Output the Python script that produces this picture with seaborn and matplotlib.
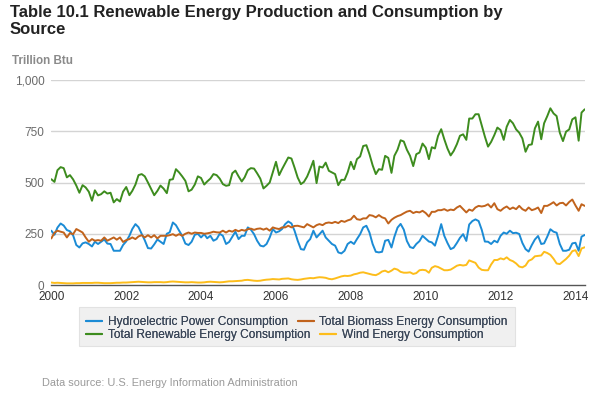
import numpy as np
import pandas as pd
import matplotlib
matplotlib.use("Agg")
import matplotlib.pyplot as plt
import matplotlib.dates as mdates
from matplotlib.lines import Line2D
from matplotlib.patches import Rectangle
import seaborn as sns

# ---------------- data (trillion Btu, monthly Jan 2000 - Apr 2014) ----------------
start_month = "2000-01-01"

total_renewable = [
    516, 503, 560, 575, 570, 525, 536, 515, 485, 450, 487, 476,
    455, 411, 462, 437, 443, 457, 446, 450, 403, 419, 407, 455,
    478, 438, 459, 490, 536, 541, 530, 500, 468, 438, 459, 485,
    470, 448, 513, 516, 565, 549, 530, 508, 457, 465, 490, 530,
    522, 490, 505, 519, 541, 536, 519, 492, 484, 487, 545, 558,
    530, 505, 525, 560, 570, 568, 545, 519, 471, 484, 500, 549,
    601, 536, 565, 594, 622, 617, 573, 524, 492, 503, 529, 565,
    606, 497, 578, 573, 597, 557, 549, 541, 487, 513, 513, 549,
    601, 565, 614, 627, 678, 682, 638, 584, 541, 565, 562, 630,
    620, 547, 630, 660, 706, 700, 660, 630, 580, 638, 646, 690,
    670, 614, 672, 666, 727, 760, 711, 666, 632, 654, 687, 728,
    735, 708, 812, 812, 833, 833, 779, 724, 675, 698, 731, 768,
    756, 708, 772, 805, 789, 759, 743, 715, 650, 683, 686, 764,
    797, 711, 789, 824, 862, 837, 824, 743, 702, 748, 759, 808,
    818, 704, 841, 857,
]

hydro = [
    265, 245, 280, 300, 290, 268, 262, 242, 195, 183, 203, 208,
    200, 188, 211, 200, 211, 222, 202, 200, 167, 167, 167, 195,
    213, 240, 273, 297, 282, 250, 218, 180, 178, 198, 222, 211,
    200, 250, 257, 305, 292, 265, 240, 202, 195, 211, 245, 250,
    232, 248, 228, 240, 216, 224, 250, 240, 200, 210, 235, 260,
    224, 240, 240, 281, 270, 248, 216, 192, 188, 200, 232, 273,
    256, 262, 273, 297, 310, 300, 265, 216, 175, 172, 208, 224,
    265, 232, 248, 265, 232, 216, 200, 192, 159, 154, 167, 200,
    211, 200, 224, 248, 281, 289, 256, 200, 162, 159, 162, 216,
    220, 183, 235, 280, 298, 270, 215, 185, 180, 200, 214, 240,
    226, 212, 208, 192, 240, 297, 240, 205, 175, 182, 205, 230,
    248, 215, 295, 312, 320, 312, 270, 212, 211, 200, 216, 208,
    240, 256, 250, 265, 253, 255, 249, 205, 175, 163, 195, 222,
    239, 200, 203, 236, 272, 260, 255, 200, 167, 167, 172, 203,
    206, 167, 236, 244,
]

biomass = [
    227, 255, 265, 260, 256, 232, 253, 248, 273, 265, 256, 232,
    211, 224, 216, 219, 216, 232, 216, 224, 232, 221, 232, 210,
    219, 224, 232, 224, 237, 243, 232, 243, 232, 243, 227, 240,
    240, 240, 243, 248, 240, 248, 240, 250, 256, 250, 256, 254,
    254, 250, 252, 255, 260, 257, 256, 265, 256, 265, 260, 269,
    262, 269, 265, 272, 275, 269, 274, 276, 270, 276, 265, 281,
    276, 273, 281, 281, 289, 281, 288, 289, 285, 281, 297, 289,
    281, 292, 297, 292, 302, 305, 302, 308, 302, 313, 308, 315,
    320, 338, 321, 318, 325, 325, 341, 338, 330, 341, 330, 325,
    300, 318, 328, 336, 341, 350, 358, 362, 351, 357, 354, 362,
    351, 334, 357, 357, 365, 365, 370, 362, 368, 365, 378, 386,
    370, 354, 368, 362, 378, 386, 383, 386, 394, 378, 399, 370,
    362, 375, 383, 370, 378, 370, 386, 370, 362, 378, 365, 370,
    378, 351, 386, 386, 394, 404, 388, 399, 401, 388, 405, 417,
    388, 362, 394, 386,
]

wind = [
    12, 10, 11, 10, 9, 8, 8, 8, 9, 9, 10, 10,
    10, 10, 11, 11, 10, 9, 9, 9, 10, 11, 11, 12,
    12, 13, 14, 15, 16, 15, 14, 13, 13, 14, 14, 14,
    13, 14, 16, 17, 16, 15, 14, 13, 13, 14, 13, 12,
    12, 13, 15, 16, 15, 14, 13, 14, 16, 18, 18, 19,
    20, 21, 24, 25, 23, 21, 20, 21, 24, 26, 27, 29,
    28, 27, 30, 31, 32, 28, 26, 25, 27, 30, 32, 34,
    33, 36, 38, 37, 35, 30, 28, 32, 37, 42, 45, 44,
    46, 52, 55, 60, 62, 58, 54, 50, 48, 55, 66, 70,
    62, 70, 80, 75, 64, 60, 60, 62, 54, 58, 72, 74,
    72, 60, 84, 92, 88, 80, 72, 72, 75, 84, 94, 98,
    95, 98, 120, 114, 108, 85, 74, 72, 72, 100, 122, 122,
    130, 125, 135, 122, 116, 105, 90, 86, 95, 118, 125, 140,
    142, 144, 162, 156, 147, 128, 105, 102, 115, 127, 143, 165,
    170, 141, 178, 184,
]

series_names = [
    "Hydroelectric Power Consumption",
    "Total Biomass Energy Consumption",
    "Total Renewable Energy Consumption",
    "Wind Energy Consumption",
]
series_colors = ["#1b8bd5", "#c1631c", "#3d8c1e", "#fdbd1b"]
y_ticks = [0, 250, 500, 750, 1000]
y_tick_labels = ["0", "250", "500", "750", "1,000"]

title_line1 = "Table 10.1 Renewable Energy Production and Consumption by"
title_line2 = "Source"
unit_label = "Trillion Btu"
source_note = "Data source: U.S. Energy Information Administration"

# ---------------- build table ----------------
dates = pd.date_range(start_month, periods=len(hydro), freq="MS")
values = [hydro, biomass, total_renewable, wind]
frames = [pd.DataFrame({"date": dates, "value": v, "series": n})
          for n, v in zip(series_names, values)]
df = pd.concat(frames, ignore_index=True)

# ---------------- style ----------------
sns.set_theme(style="white")
plt.rcParams["font.family"] = ["Liberation Sans", "DejaVu Sans"]

W, H = 595, 397
fig = plt.figure(figsize=(W / 100, H / 100), dpi=100)
ax = fig.add_axes([51.3 / W, 1 - 285 / H, (584.7 - 51.3) / W, (285 - 80) / H])

palette = dict(zip(series_names, series_colors))
sns.lineplot(data=df, x="date", y="value", hue="series", hue_order=series_names,
             palette=palette, ax=ax, legend=False, linewidth=1.4)

ax.set_xlim(dates[0], dates[-1])
ax.set_ylim(0, 1000)
ax.set_yticks(y_ticks)
ax.set_yticklabels(y_tick_labels)
ax.xaxis.set_major_locator(mdates.YearLocator(2))
ax.xaxis.set_major_formatter(mdates.DateFormatter("%Y"))
ax.set_xlabel("")
ax.set_ylabel("")

for yv in y_ticks[1:]:
    ax.axhline(yv, color="#d4d4d4", linewidth=1.0, zorder=0)

for s in ["top", "right", "left"]:
    ax.spines[s].set_visible(False)
ax.spines["bottom"].set_color("#555555")
ax.spines["bottom"].set_linewidth(1.0)
ax.tick_params(axis="x", which="major", direction="out", length=3, width=1,
               color="#555555", labelsize=8.5, labelcolor="#333333", pad=1.5)
ax.tick_params(axis="y", length=0, labelsize=8.5, labelcolor="#6a6a6a", pad=5)
ax.set_facecolor("white")

# ---------------- texts ----------------
fig.text(10 / W, 1 - 17 / H, title_line1, fontsize=12.0, fontweight="bold",
         color="#222222", va="baseline", ha="left")
fig.text(10 / W, 1 - 34 / H, title_line2, fontsize=12.0, fontweight="bold",
         color="#222222", va="baseline", ha="left")
fig.text(12 / W, 1 - 61 / H, unit_label, fontsize=8.4, fontweight="bold",
         color="#8a8a8a", va="center", ha="left")
fig.text(42 / W, 1 - 383 / H, source_note, fontsize=7.9,
         color="#9a9a9a", va="center", ha="left")

# ---------------- legend ----------------
fig.add_artist(Rectangle((79 / W, 1 - 346 / H), (515 - 79) / W, (346 - 307) / H,
                         transform=fig.transFigure, facecolor="#f0f0f0",
                         edgecolor="#e2e2e2", linewidth=0.8, zorder=0))
handles = [Line2D([], [], color=c, linewidth=1.5) for c in series_colors]
rows = [(0, 1, 322), (2, 3, 335)]
for a, b, yc in rows:
    leg = fig.legend([handles[a], handles[b]], [series_names[a], series_names[b]],
                     loc="center left", bbox_to_anchor=(86 / W, 1 - yc / H),
                     ncol=2, frameon=False, fontsize=8.6, handlelength=1.35,
                     handletextpad=0.45, columnspacing=0.85, borderpad=0,
                     borderaxespad=0)
    for t in leg.get_texts():
        t.set_color("#3a4658")
    fig.add_artist(leg)

fig.savefig("out.png", dpi=100, facecolor="white")
